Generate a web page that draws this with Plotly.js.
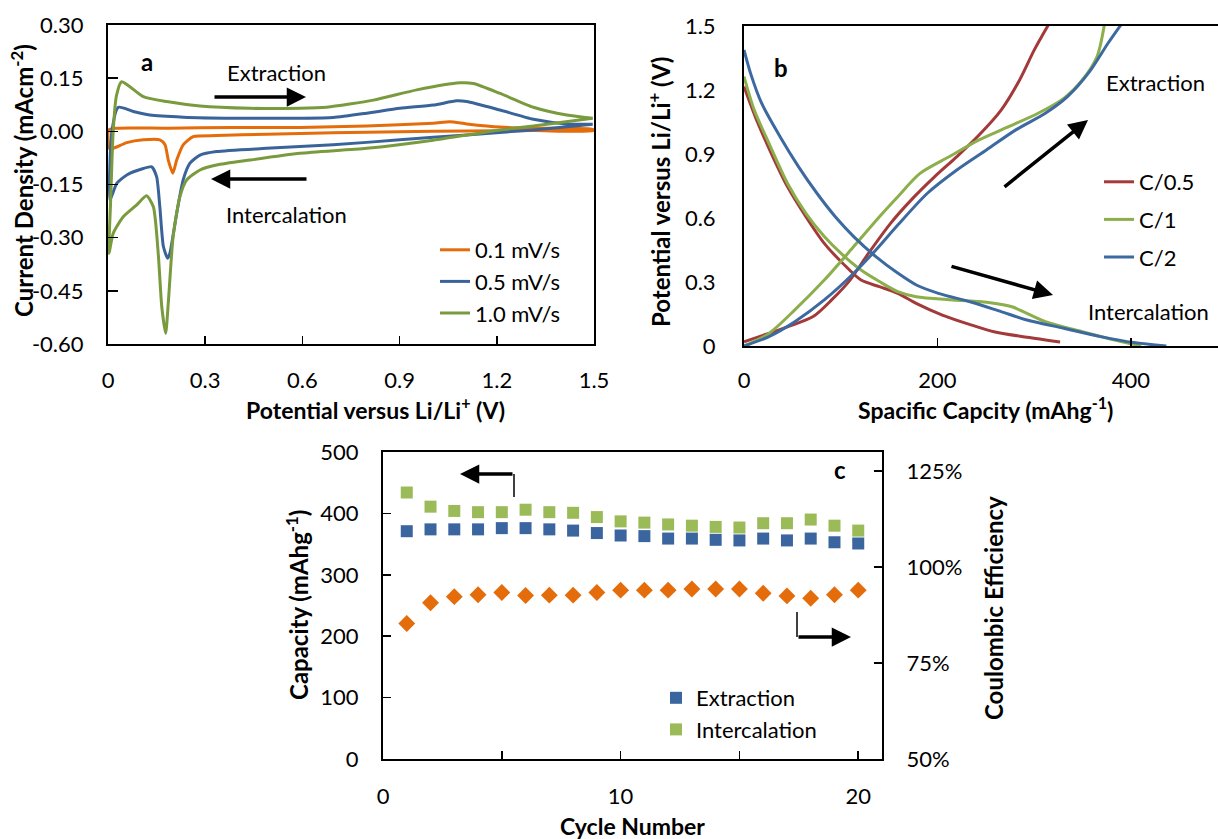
<!DOCTYPE html>
<html>
<head>
<meta charset="utf-8">
<script src="https://cdn.plot.ly/plotly-3.0.1.min.js"></script>
<style>html,body{margin:0;padding:0;background:#fff;}#chart{width:1218px;height:839px;}</style>
</head>
<body>
<div id="chart"></div>
<script>
// ---------- Panel a: cyclic voltammetry ----------
const cv01_up_v = [0.002, 0.027, 0.181, 0.387, 0.593, 0.798, 1.004, 1.055, 1.107, 1.21, 1.313, 1.496];
const cv01_up_j = [0.004, 0.009, 0.009, 0.011, 0.011, 0.015, 0.023, 0.027, 0.021, 0.012, 0.009, 0.006];
const cv01_dn_v = [1.496, 1.313, 1.107, 0.901, 0.695, 0.489, 0.335, 0.263, 0.232, 0.212, 0.200, 0.186, 0.176, 0.160, 0.109, 0.058, 0.016, 0.004, 0.002];
const cv01_dn_j = [0.002, 0.002, 0.001, -0.001, -0.004, -0.008, -0.012, -0.015, -0.038, -0.081, -0.118, -0.081, -0.038, -0.024, -0.024, -0.032, -0.048, -0.048, 0.004];

const cv05_up_v = [0.006, 0.012, 0.032, 0.078, 0.129, 0.232, 0.387, 0.593, 0.695, 0.798, 0.901, 1.004, 1.076, 1.107, 1.21, 1.313, 1.416, 1.496];
const cv05_up_j = [-0.194, 0.0, 0.068, 0.056, 0.046, 0.040, 0.037, 0.037, 0.039, 0.051, 0.065, 0.074, 0.086, 0.084, 0.060, 0.034, 0.021, 0.020];
const cv05_dn_v = [1.496, 1.313, 1.107, 0.901, 0.695, 0.489, 0.335, 0.284, 0.253, 0.232, 0.212, 0.191, 0.184, 0.171, 0.160, 0.150, 0.135, 0.109, 0.058, 0.027, 0.006];
const cv05_dn_j = [0.020, 0.004, -0.010, -0.024, -0.038, -0.048, -0.057, -0.067, -0.090, -0.137, -0.231, -0.344, -0.358, -0.325, -0.213, -0.128, -0.100, -0.105, -0.123, -0.147, -0.194];

const cv10_up_v = [0.003, 0.008, 0.016, 0.026, 0.042, 0.109, 0.181, 0.284, 0.438, 0.593, 0.675, 0.819, 0.953, 1.086, 1.128, 1.21, 1.313, 1.416, 1.496];
const cv10_up_j = [-0.344, -0.20, 0.0, 0.10, 0.140, 0.098, 0.084, 0.0715, 0.065, 0.065, 0.068, 0.088, 0.117, 0.137, 0.135, 0.107, 0.068, 0.046, 0.037];
const cv10_dn_v = [1.496, 1.313, 1.21, 1.004, 0.798, 0.593, 0.438, 0.335, 0.284, 0.243, 0.222, 0.201, 0.186, 0.178, 0.166, 0.155, 0.140, 0.119, 0.088, 0.047, 0.016, 0.003];
const cv10_dn_j = [0.037, 0.015, 0.004, -0.025, -0.048, -0.062, -0.081, -0.095, -0.109, -0.137, -0.184, -0.297, -0.485, -0.570, -0.495, -0.344, -0.213, -0.182, -0.208, -0.241, -0.288, -0.344];

const cvNames = ['0.1 mV/s', '0.5 mV/s', '1.0 mV/s'];
const yTicksA = [0.30, 0.15, 0.00, -0.15, -0.30, -0.45, -0.60];
const yTickTextA = ['0.30', '0.15', '0.00', '-0.15', '-0.30', '-0.45', '-0.60'];

// ---------- Panel b: galvanostatic profiles ----------
const rateNames = ['C/0.5', 'C/1', 'C/2'];
const dis05_c = [0, 14.4, 29.7, 44.9, 64, 83, 102, 121, 140, 159, 178, 205, 235.4, 258.3, 292.5, 326.8];
const dis05_v = [1.216, 1.044, 0.888, 0.747, 0.606, 0.481, 0.388, 0.309, 0.278, 0.247, 0.200, 0.145, 0.098, 0.067, 0.041, 0.019];
const cha05_c = [0, 44.9, 71.5, 90.6, 109.6, 128.6, 151.5, 174.4, 197.2, 220.1, 243, 265.8, 284.9, 300.1, 314.6];
const cha05_v = [0.02, 0.09, 0.138, 0.216, 0.309, 0.434, 0.575, 0.692, 0.794, 0.888, 0.989, 1.106, 1.247, 1.388, 1.505];

const dis1_c = [0, 10.6, 25.8, 44.9, 64, 83, 102, 121, 140, 159, 178, 216, 254.5, 277, 292.5, 311.5, 349.7, 387.8, 410.6];
const dis1_v = [1.263, 1.106, 0.950, 0.763, 0.622, 0.513, 0.427, 0.356, 0.302, 0.255, 0.231, 0.216, 0.203, 0.184, 0.153, 0.114, 0.067, 0.023, 0.0];
const cha1_c = [0, 25.8, 52.5, 83, 113.4, 140, 159, 182, 212.5, 243, 273.5, 304, 330.6, 349.7, 364.9, 372.5];
const cha1_v = [0.0, 0.059, 0.169, 0.309, 0.466, 0.606, 0.700, 0.809, 0.888, 0.966, 1.028, 1.091, 1.161, 1.247, 1.356, 1.505];

const dis2_c = [0, 6.8, 18.2, 37.3, 56.3, 75.4, 94.4, 113.4, 136.3, 159.2, 178.2, 201, 235.4, 265.8, 292.5, 330.6, 368.7, 403, 436.6];
const dis2_v = [1.388, 1.278, 1.138, 0.981, 0.841, 0.716, 0.606, 0.513, 0.419, 0.341, 0.286, 0.247, 0.205, 0.161, 0.122, 0.083, 0.044, 0.016, 0.0];
const cha2_c = [0, 25.8, 52.5, 83, 113.4, 136.3, 159, 189.6, 220, 250.6, 281, 311.5, 334.4, 357.2, 376.3, 389.6];
const cha2_v = [0.0, 0.044, 0.114, 0.216, 0.341, 0.450, 0.567, 0.716, 0.825, 0.919, 1.013, 1.091, 1.169, 1.286, 1.419, 1.505];

// ---------- Panel c: cycling ----------
const cycles = [1,2,3,4,5,6,7,8,9,10,11,12,13,14,15,16,17,18,19,20];
const extractionCap = [371, 374, 374, 374, 376, 376, 374, 372, 368, 364, 363, 359, 359, 357, 356, 359, 356, 359, 353, 351];
const intercalationCap = [434, 411, 404, 402, 402, 406, 402, 401, 394, 387, 385, 382, 380, 378, 377, 384, 384, 390, 380, 372];
const coulombicEff = [0.853, 0.907, 0.923, 0.928, 0.934, 0.926, 0.927, 0.927, 0.934, 0.940, 0.940, 0.940, 0.943, 0.943, 0.943, 0.932, 0.925, 0.919, 0.928, 0.940];
const effTicks = [0.5, 0.75, 1.0, 1.25];
const effTickText = ['50%', '75%', '100%', '125%'];

// ---------- styling ----------
const W = 1218, H = 839;
const px = x => x / W;
const py = y => 1 - y / H;
const FONT = 'Lato, "Open Sans", sans-serif';
const fs = 22;
const cvColors = ['#E46C0A', '#3A6499', '#7A9A3E'];
const rateColors = ['#A33A3A', '#8CAF4C', '#3C6AA0'];

const traces = [];
const cvUp = [[cv01_up_v, cv01_up_j], [cv05_up_v, cv05_up_j], [cv10_up_v, cv10_up_j]];
const cvDn = [[cv01_dn_v, cv01_dn_j], [cv05_dn_v, cv05_dn_j], [cv10_dn_v, cv10_dn_j]];
for (let i = 0; i < 3; i++) {
  traces.push({x: cvUp[i][0].concat(cvDn[i][0]), y: cvUp[i][1].concat(cvDn[i][1]), xaxis: 'x', yaxis: 'y',
    mode: 'lines', name: cvNames[i], legend: 'legend',
    line: {color: cvColors[i], width: 3, shape: 'spline', smoothing: 0.6}});
}
const dis = [[dis05_c, dis05_v], [dis1_c, dis1_v], [dis2_c, dis2_v]];
const cha = [[cha05_c, cha05_v], [cha1_c, cha1_v], [cha2_c, cha2_v]];
for (let i = 0; i < 3; i++) {
  traces.push({x: dis[i][0], y: dis[i][1], xaxis: 'x2', yaxis: 'y2', mode: 'lines', name: rateNames[i],
    legend: 'legend2', legendgroup: 'r' + i, line: {color: rateColors[i], width: 3, shape: 'spline', smoothing: 0.8}});
  traces.push({x: cha[i][0], y: cha[i][1], xaxis: 'x2', yaxis: 'y2', mode: 'lines', name: rateNames[i],
    legend: 'legend2', legendgroup: 'r' + i, showlegend: false, line: {color: rateColors[i], width: 3, shape: 'spline', smoothing: 0.8}});
}
traces.push({x: cycles, y: extractionCap, xaxis: 'x3', yaxis: 'y3', mode: 'markers', name: 'Extraction',
  legend: 'legend3', legendgroup: 'e', marker: {symbol: 'square', size: 12, color: '#3A659E'}});
traces.push({x: cycles, y: intercalationCap, xaxis: 'x3', yaxis: 'y3', mode: 'markers', name: 'Intercalation',
  legend: 'legend3', legendgroup: 'i', marker: {symbol: 'square', size: 12, color: '#9BBB59'}});
traces.push({x: cycles, y: coulombicEff, xaxis: 'x3', yaxis: 'y4', mode: 'markers', name: 'Coulombic Efficiency',
  showlegend: false, marker: {symbol: 'diamond', size: 13, color: '#E46C0A'}});

const axBase = {showline: true, linecolor: '#000', linewidth: 2, showgrid: false, zeroline: false,
  tickfont: {family: FONT, size: fs, color: '#000'}, ticks: 'inside', tickcolor: '#000', tickwidth: 1.5, ticklen: 8};

const ann = [];
function txt(x, y, t, opt) {
  ann.push(Object.assign({xref: 'paper', yref: 'paper', x: px(x), y: py(y), text: t, showarrow: false,
    xanchor: 'center', yanchor: 'middle', font: {family: FONT, size: fs, color: '#000'}}, opt || {}));
}
function arrow(x0, y0, x1, y1) {
  ann.push({xref: 'paper', yref: 'paper', x: px(x1), y: py(y1), ax: x0 - x1, ay: y0 - y1, text: '',
    showarrow: true, arrowhead: 2, arrowsize: 1.1, arrowwidth: 3.5, arrowcolor: '#000'});
}
const bold = {family: FONT, size: 24, color: '#000', weight: 700};
const boldT = {family: FONT, size: 23, color: '#000', weight: 700};
// titles
txt(375, 408, 'Potential versus Li/Li<sup>+</sup> (V)', {font: boldT});
txt(22, 181, 'Current Density (mAcm<sup>-2</sup>)', {font: bold, textangle: -90});
txt(985, 408, 'Spacific Capcity (mAhg<sup>-1</sup>)', {font: boldT});
txt(659, 192, 'Potential versus Li/Li<sup>+</sup> (V)', {font: bold, textangle: -90});
txt(632, 826, 'Cycle Number', {font: boldT});
txt(297, 605, 'Capacity (mAhg<sup>-1</sup>)', {font: bold, textangle: -90});
txt(993, 608, 'Coulombic Efficiency', {font: bold, textangle: -90});
// panel labels
txt(147, 61, 'a', {font: bold});
txt(781, 67, 'b', {font: bold});
txt(840, 469, 'c', {font: bold});
// annotations
txt(276, 72, 'Extraction');
txt(286, 214, 'Intercalation');
arrow(213, 97, 306, 97);
arrow(308, 179, 211, 179);
txt(1155, 82, 'Extraction');
txt(1148, 312, 'Intercalation');
arrow(1003, 188, 1088, 120);
arrow(950, 266, 1053, 295);
arrow(514, 474, 460, 474);
arrow(797, 637, 851, 637);

const shapes = [
  {type: 'line', xref: 'paper', yref: 'paper', x0: px(514), x1: px(514), y0: py(474), y1: py(497), line: {color: '#000', width: 1.5}},
  {type: 'line', xref: 'paper', yref: 'paper', x0: px(797), x1: px(797), y0: py(612), y1: py(637), line: {color: '#000', width: 1.5}}
];

const legBase = {font: {family: FONT, size: fs, color: '#000'}, bgcolor: 'rgba(0,0,0,0)', xanchor: 'left', yanchor: 'top', borderwidth: 0};

const layout = {
  width: W, height: H, margin: {l: 0, r: 0, t: 0, b: 0}, paper_bgcolor: '#fff', plot_bgcolor: 'rgba(0,0,0,0)',
  font: {family: FONT, size: fs, color: '#000'},
  xaxis: Object.assign({}, axBase, {domain: [px(108), px(594)], range: [0, 1.5], dtick: 0.3, anchor: 'y', mirror: true, ticklabelstandoff: 16}),
  yaxis: Object.assign({}, axBase, {domain: [py(344), py(25)], range: [-0.6, 0.3], tickvals: yTicksA, ticktext: yTickTextA, anchor: 'x', mirror: true, ticklen: 10, ticklabelstandoff: 18}),
  xaxis2: Object.assign({}, axBase, {domain: [px(744), 1], range: [0, 490], dtick: 200, anchor: 'y2', mirror: true, ticklabelstandoff: 14}),
  yaxis2: Object.assign({}, axBase, {domain: [py(346), py(26)], range: [0, 1.5], dtick: 0.3, anchor: 'x2', mirror: true, ticks: '', ticklabelstandoff: 22}),
  xaxis3: Object.assign({}, axBase, {domain: [px(383), px(882)], range: [0, 21], dtick: 10, anchor: 'y3', mirror: true, ticklabelstandoff: 17,
    minor: {dtick: 5, ticks: 'inside', ticklen: 8, tickcolor: '#000', tickwidth: 1.5}}),
  yaxis3: Object.assign({}, axBase, {domain: [py(759), py(452)], range: [0, 500], dtick: 100, anchor: 'x3', ticklabelstandoff: 18}),
  yaxis4: Object.assign({}, axBase, {overlaying: 'y3', side: 'right', anchor: 'x3', range: [0.5, 1.3], tickvals: effTicks, ticktext: effTickText, ticklabelstandoff: 18}),
  showlegend: true,
  legend: Object.assign({}, legBase, {x: px(435), y: py(229)}),
  legend2: Object.assign({}, legBase, {x: px(1099), y: py(161), traceorder: 'grouped', tracegroupgap: 6}),
  legend3: Object.assign({}, legBase, {x: px(656), y: py(677), traceorder: 'grouped', tracegroupgap: 0}),
  annotations: ann,
  shapes: shapes
};

Plotly.newPlot('chart', traces, layout, {displayModeBar: false, staticPlot: true});
</script>
</body>
</html>
